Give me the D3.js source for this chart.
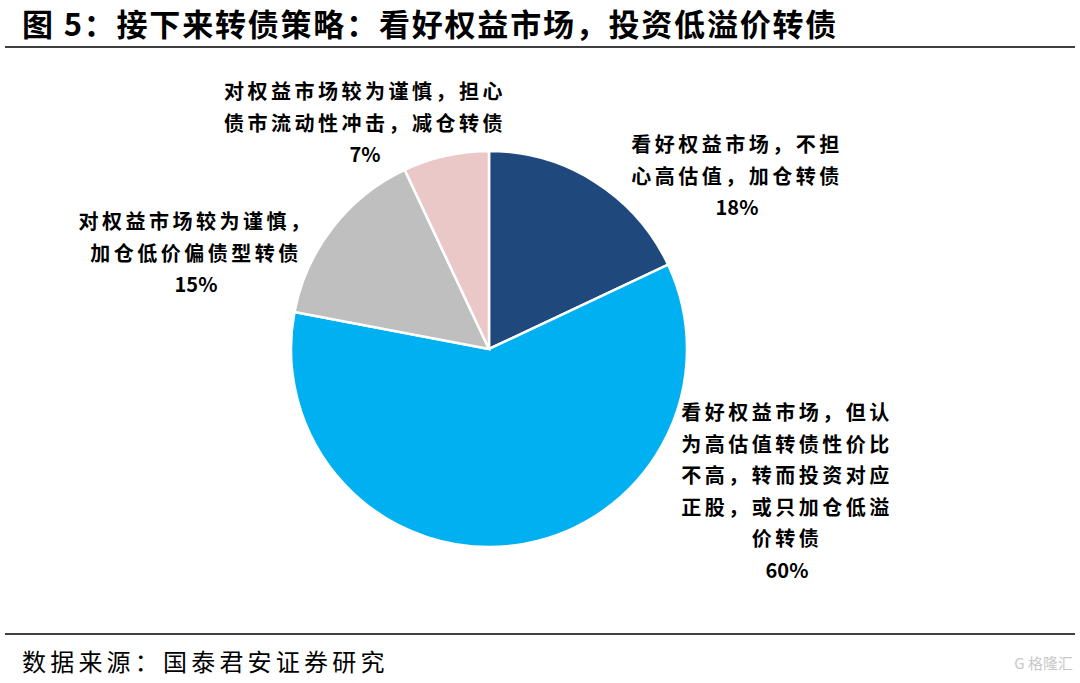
<!DOCTYPE html>
<html><head><meta charset="utf-8">
<script src="https://cdn.jsdelivr.net/npm/d3@7"></script>
<style>
body{margin:0;background:#fff;}
svg{display:block;}
text{font-family:"Noto Sans CJK SC","Noto Sans",sans-serif;}
</style></head>
<body>
<script>
const categories = [
  ["看好权益市场，不担","心高估值，加仓转债"],
  ["看好权益市场，但认","为高估值转债性价比","不高，转而投资对应","正股，或只加仓低溢","价转债"],
  ["对权益市场较为谨慎，","加仓低价偏债型转债"],
  ["对权益市场较为谨慎，担心","债市流动性冲击，减仓转债"]
];
const values = [18, 60, 15, 7];
const percentLabels = ["18%", "60%", "15%", "7%"];
const colors = ["#1F497D", "#00B0F0", "#BFBFBF", "#EBC8C8"];
const title = "图 5：接下来转债策略：看好权益市场，投资低溢价转债";
const source = "数据来源：国泰君安证券研究";

const W = 1080, H = 683;
const svg = d3.select("body").append("svg").attr("width", W).attr("height", H);

// title
svg.append("text").attr("x", 22).attr("y", 36)
  .attr("font-size", 31).attr("font-weight", "bold").attr("fill", "#000")
  .attr("letter-spacing", 1.8)
  .text(title);
svg.append("line").attr("x1", 5).attr("x2", 1075).attr("y1", 47).attr("y2", 47)
  .attr("stroke", "#000").attr("stroke-width", 1.5);

// footer
svg.append("line").attr("x1", 5).attr("x2", 1075).attr("y1", 634).attr("y2", 634)
  .attr("stroke", "#000").attr("stroke-width", 1.5);
svg.append("text").attr("x", 22).attr("y", 671)
  .attr("font-size", 24).attr("letter-spacing", 4.2).attr("fill", "#000")
  .text(source);
svg.append("text").attr("x", 1073).attr("y", 669).attr("text-anchor", "end")
  .attr("font-size", 15).attr("fill", "#c8c8c8").text("G 格隆汇");

// pie
const cx = 489, cy = 349, R = 198;
const pie = d3.pie().sort(null).value(d => d);
const arcs = pie(values);
const arc = d3.arc().innerRadius(0).outerRadius(R);
const g = svg.append("g").attr("transform", `translate(${cx},${cy})`);
g.selectAll("path").data(arcs).join("path")
  .attr("d", arc)
  .attr("fill", (d, i) => colors[i])
  .attr("stroke", "#fff").attr("stroke-width", 2.5);

// label placement (first-line anchor relative to pie centre)
const labelPos = [[248, -197], [298, 71], [-293, -120], [-124, -250]];
const lineH = 31.6;
arcs.forEach((d, i) => {
  const [x, y] = labelPos[i];
  const lines = categories[i].concat([percentLabels[i]]);
  const t = g.append("text")
    .attr("text-anchor", "middle")
    .attr("font-size", 20).attr("font-weight", "bold").attr("fill", "#000");
  lines.forEach((l, k) => {
    t.append("tspan").attr("x", x).attr("y", y + k * lineH)
      .attr("letter-spacing", k === lines.length - 1 ? 0 : 3.5)
      .text(l);
  });
});
</script>
</body></html>
